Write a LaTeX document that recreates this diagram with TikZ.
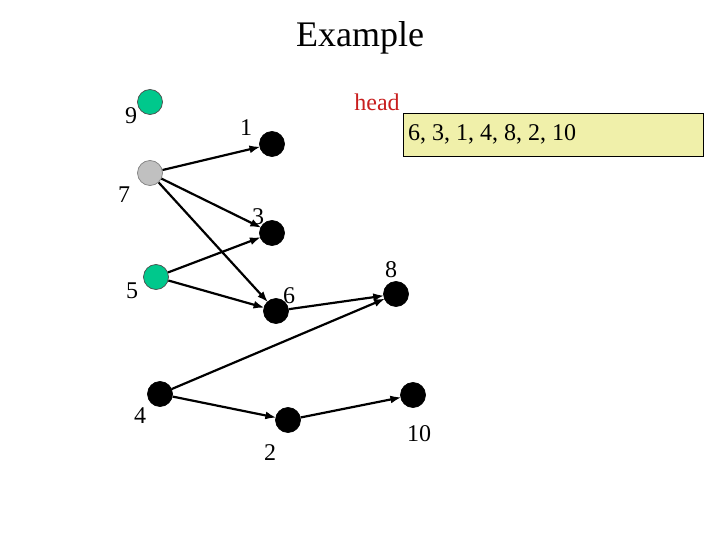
\documentclass[tikz,border=0pt]{standalone}
\usepackage{fontspec}
\setmainfont{Liberation Serif}
\usetikzlibrary{arrows.meta}
\definecolor{tealc}{RGB}{0,200,140}
\definecolor{grayc}{RGB}{192,192,192}
\definecolor{boxc}{RGB}{240,240,170}
\definecolor{headc}{RGB}{200,30,30}
\begin{document}
\begin{tikzpicture}[x=1pt,y=-1pt,
  vert/.style={circle,draw=black,line width=0.7pt,minimum size=25pt,inner sep=0pt},
  blk/.style={vert,fill=black},
  grn/.style={vert,fill=tealc,draw=black!70},
  gry/.style={vert,fill=grayc,draw=gray},
  lab/.style={font=\fontsize{24}{24}\selectfont,inner sep=0pt},
  edge/.style={-{Latex[length=11pt,width=8pt]},line width=2.2pt,shorten >=-1pt}]
\useasboundingbox (0,0) rectangle (720,540);
\node[font=\fontsize{36}{36}\selectfont] (title) at (360,38) {Example};
\node[grn] (n9) at (150,102) {};
\node[gry] (n7) at (150,173) {};
\node[blk] (n1) at (272,144) {};
\node[blk] (n3) at (272,233) {};
\node[grn] (n5) at (156,277) {};
\node[blk] (n6) at (276,311) {};
\node[blk] (n8) at (396,294) {};
\node[blk] (n4) at (160,394) {};
\node[blk] (n2) at (288,420) {};
\node[blk] (n10) at (413,395) {};
\node[lab] (l9) at (131,116) {9};
\node[lab] (l7) at (124,195) {7};
\node[lab] (l1) at (246,128) {1};
\node[lab] (l3) at (258,217) {3};
\node[lab] (l5) at (132,291) {5};
\node[lab] (l6) at (289,296) {6};
\node[lab] (l8) at (391,270) {8};
\node[lab] (l4) at (140,416) {4};
\node[lab] (l2) at (270,453) {2};
\node[lab] (l10) at (419,434) {10};
\node[lab,text=headc] (head) at (377,102) {head};
\node[draw=black,fill=boxc,line width=0.8pt,minimum width=300pt,minimum height=43pt,inner sep=0pt] (box) at (553,134.5) {};
\node[lab,anchor=west] (list) at (408,134) {6, 3, 1, 4, 8, 2, 10};
\draw[edge] (n7) -- (n1);
\draw[edge] (n7) -- (n3);
\draw[edge] (n7) -- (n6);
\draw[edge] (n5) -- (n3);
\draw[edge] (n5) -- (n6);
\draw[edge] (n6) -- (n8);
\draw[edge] (n4) -- (n8);
\draw[edge] (n4) -- (n2);
\draw[edge] (n2) -- (n10);
\end{tikzpicture}
\end{document}
